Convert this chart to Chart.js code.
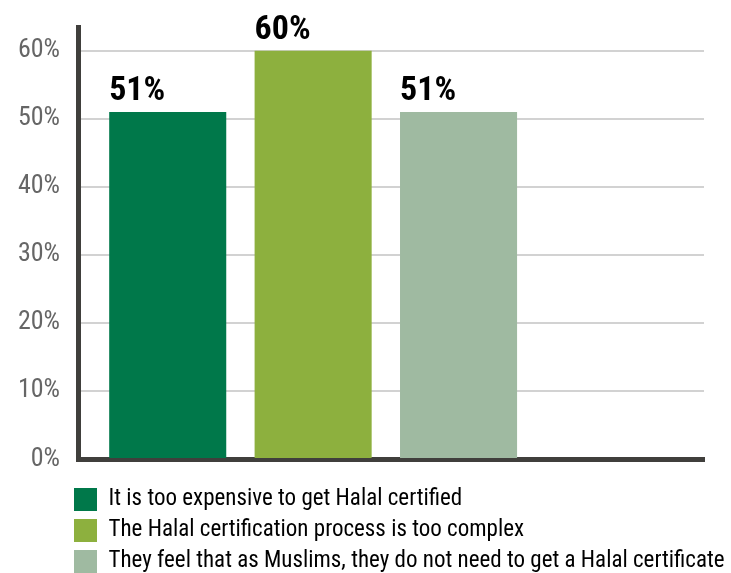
<!DOCTYPE html>
<html>
<head>
<meta charset="utf-8">
<script src="https://cdn.jsdelivr.net/npm/chart.js@4/dist/chart.umd.min.js"></script>
<style>
  html, body { margin: 0; padding: 0; background: #ffffff; }
  #wrap { width: 731px; height: 573px; }
</style>
</head>
<body>
<div id="wrap"><canvas id="chart" width="731" height="573"></canvas></div>
<script>
// Reasons for not getting Halal certification (share of respondents)
const categories = [
  'It is too expensive to get Halal certified',
  'The Halal certification process is too complex',
  'They feel that as Muslims, they do not need to get a Halal certificate'
];
const shares = [51, 60, 51];
const yTicks = [0, 10, 20, 30, 40, 50, 60];

// Styling
const barColors = ['#00784a', '#8db03e', '#9fbaa1'];
const condensed = '"Roboto Condensed", Roboto, sans-serif';

// Value labels, left-aligned with each bar and sitting just above it
const barValueLabels = {
  id: 'barValueLabels',
  afterDatasetsDraw(chart) {
    const { ctx } = chart;
    const meta = chart.getDatasetMeta(0);
    ctx.save();
    ctx.font = 'bold 34px ' + condensed;
    ctx.fillStyle = '#000000';
    ctx.textAlign = 'left';
    ctx.textBaseline = 'alphabetic';
    meta.data.forEach((bar, i) => {
      const { x, y, width } = bar.getProps(['x', 'y', 'width'], true);
      ctx.fillText(shares[i] + '%', x - width / 2, y - 12);
    });
    ctx.restore();
  }
};

// Indent the legend so its swatches line up under the value axis
const legendIndent = {
  id: 'legendIndent',
  afterLayout(chart) {
    const legend = chart.legend;
    if (legend) {
      legend.left += 66;
      legend.right = chart.width;
    }
  }
};

new Chart(document.getElementById('chart'), {
  type: 'bar',
  data: {
    datasets: [{
      data: shares.map((v, i) => ({ x: i, y: v })),
      backgroundColor: barColors,
      borderWidth: 0,
      categoryPercentage: 1,
      barPercentage: 0.805
    }]
  },
  options: {
    responsive: false,
    animation: false,
    layout: { padding: { left: 0, right: 27, top: 27, bottom: -10 } },
    scales: {
      x: {
        type: 'linear',
        offset: false,
        min: -0.617,
        max: 3.688,
        z: 1,
        grid: { display: false },
        ticks: { display: false },
        border: { display: true, color: '#403f3c', width: 5 },
        afterBuildTicks: (scale) => { scale.ticks = categories.map((_, i) => ({ value: i })); },
        afterFit: (scale) => { scale.height = 21; }
      },
      y: {
        min: 0,
        max: 63.5,
        grid: { color: '#d2d2d2', lineWidth: 2, drawTicks: false },
        border: { display: true, color: '#403f3c', width: 5 },
        ticks: {
          padding: 18,
          color: '#666666',
          font: { family: condensed, size: 26 },
          callback: (v) => v + '%'
        },
        afterBuildTicks: (scale) => { scale.ticks = yTicks.map(v => ({ value: v })); },
        afterFit: (scale) => {
          scale.width = 78;
          scale.paddingTop = 0;
          scale.paddingBottom = 0;
        }
      }
    },
    plugins: {
      tooltip: { enabled: false },
      legend: {
        position: 'bottom',
        align: 'start',
        onClick: null,
        labels: {
          boxWidth: 23,
          boxHeight: 23,
          padding: 8,
          color: '#1a1a1a',
          font: { family: condensed, size: 23 },
          generateLabels: () => categories.map((c, i) => ({
            text: c,
            fillStyle: barColors[i],
            strokeStyle: barColors[i],
            lineWidth: 0,
            hidden: false,
            index: i
          }))
        }
      }
    }
  },
  plugins: [barValueLabels, legendIndent]
});
</script>
</body>
</html>
